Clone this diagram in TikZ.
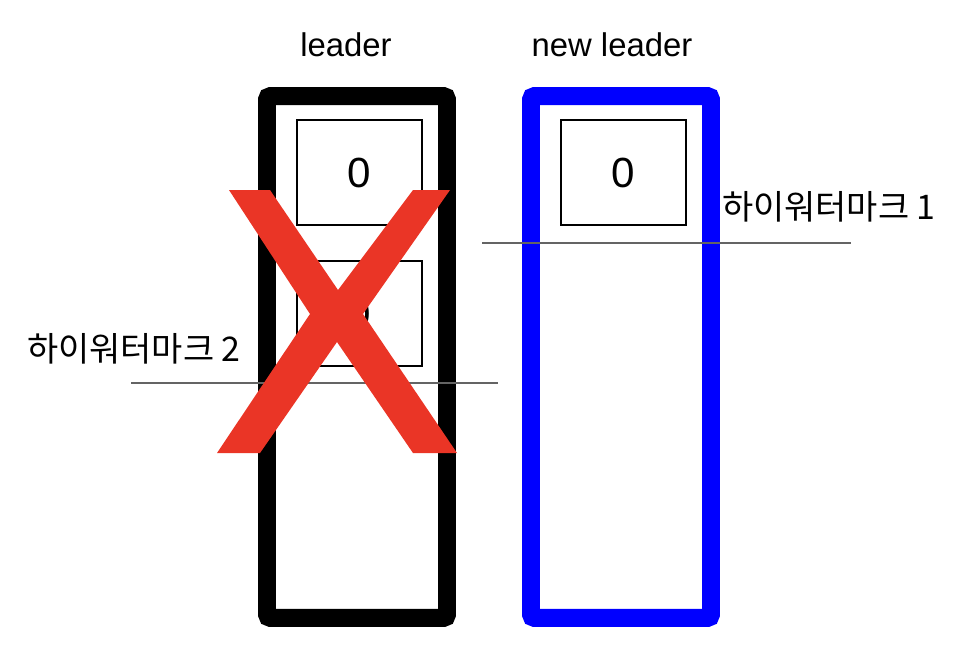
\documentclass[tikz,border=0pt]{standalone}
\usepackage{fontspec}
\setmainfont{Liberation Sans}
\newfontfamily\krfont{Noto Sans CJK KR}
\usetikzlibrary{positioning}
\definecolor{xred}{RGB}{234,53,38}
\definecolor{hwgray}{RGB}{100,100,100}

\begin{document}
\begin{tikzpicture}[x=0.02cm,y=-0.02cm,
	log/.style={draw,line width=10.2pt,rounded corners=2pt,minimum width=3.6cm,minimum height=10.44cm,inner sep=0pt},
	cell/.style={draw,line width=0.85pt,minimum width=2.5cm,minimum height=2.1cm,inner sep=0pt,font=\fontsize{24}{28}\selectfont},
	title/.style={font=\fontsize{18.7}{22}\selectfont},
	hw/.style={font=\krfont\fontsize{19.3}{23}\selectfont},
	hwline/.style={draw=hwgray,line width=0.9pt}]
	\useasboundingbox (0,0) rectangle (958,646);
	% logs
	\node[log] (leader) at (357,357) {};
	\node[log,draw=blue] (newleader) at (621,357) {};
	\node[title] (leadertitle) at (346,45) {leader};
	\node[title] (newleadertitle) at (612,45) {new leader};
	% records
	\node[cell] (l0) at (359.5,172.5) {0};
	\node[cell] (l1) at (359.5,313.5) {0};
	\node[cell] (n0) at (623.5,172.5) {0};
	% high watermarks
	\coordinate (hw1a) at (482,243);
	\coordinate (hw1b) at (851,243);
	\coordinate (hw2a) at (131,383);
	\coordinate (hw2b) at (498,383);
	\draw[hwline] (hw1a) -- (hw1b);
	\draw[hwline] (hw2a) -- (hw2b);
	\node[hw] (hw1) at (829,207) {하이워터마크 1};
	\node[hw] (hw2) at (134,349) {하이워터마크 2};
	% leader is gone
	\fill[xred] (229,190) -- (270,190) -- (338,290) -- (413,190) -- (450,190)
		-- (363,314) -- (457,453) -- (413,453) -- (337,342) -- (260,453)
		-- (217,453) -- (310,314) -- cycle;
\end{tikzpicture}
\end{document}
